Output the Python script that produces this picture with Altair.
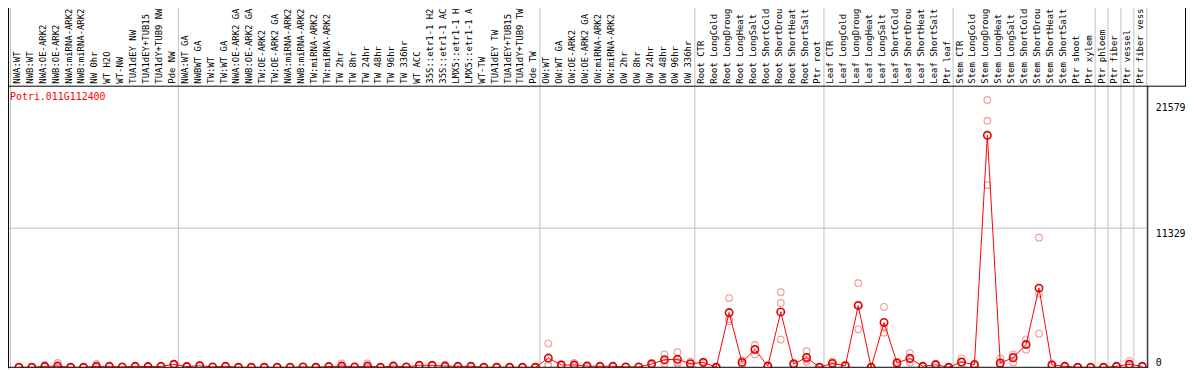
import altair as alt
import pandas as pd

gene_id = "Potri.011G112400"

labels = [
    "NWA:WT", "NWB:WT", "NWA:OE-ARK2", "NWB:OE-ARK2", "NWA:miRNA-ARK2", "NWB:miRNA-ARK2",
    "NW 0hr", "WT H2O", "WT-NW", "TUA1dEY NW", "TUA1dEY+TUB15", "TUA1dY+TUB9 NW", "Pde NW",
    "NWA:WT GA", "NWBWT GA", "TW:WT", "TW:WT GA", "NWA:OE-ARK2 GA", "NWB:OE-ARK2 GA",
    "TW:OE-ARK2", "TW:OE-ARK2 GA", "NWA:miRNA-ARK2", "NWB:miRNA-ARK2", "TW:miRNA-ARK2",
    "TW:miRNA-ARK2", "TW 2hr", "TW 8hr", "TW 24hr", "TW 48hr", "TW 96hr", "TW 336hr", "WT ACC",
    "35S::etr1-1 H2", "35S::etr1-1 AC", "LMX5::etr1-1 H", "LMX5::etr1-1 A", "WT-TW",
    "TUA1dEY TW", "TUA1dEY+TUB15", "TUA1dY+TUB9 TW", "Pde TW",
    "OW:WT", "OW:WT GA", "OW:OE-ARK2", "OW:OE-ARK2 GA", "OW:miRNA-ARK2", "OW:miRNA-ARK2",
    "OW 2hr", "OW 8hr", "OW 24hr", "OW 48hr", "OW 96hr", "OW 336hr",
    "Root CTR", "Root LongCold", "Root LongDroug", "Root LongHeat", "Root LongSalt",
    "Root ShortCold", "Root ShortDrou", "Root ShortHeat", "Root ShortSalt", "Ptr root",
    "Leaf CTR", "Leaf LongCold", "Leaf LongDroug", "Leaf LongHeat", "Leaf LongSalt",
    "Leaf ShortCold", "Leaf ShortDrou", "Leaf ShortHeat", "Leaf ShortSalt", "Ptr leaf",
    "Stem CTR", "Stem LongCold", "Stem LongDroug", "Stem LongHeat", "Stem LongSalt",
    "Stem ShortCold", "Stem ShortDrou", "Stem ShortHeat", "Stem ShortSalt", "Ptr shoot",
    "Ptr xylem", "Ptr phloem", "Ptr fiber", "Ptr vessel", "Ptr fiber vess",
]
group_sizes = [13, 28, 12, 10, 10, 11, 1, 1, 1, 1]

means = [
    0, 0, 80, 100, 0, 0, 80, 80, 30, 80, 60, 80, 240,
    60, 130, 30, 80, 0, 0, 0, 0, 0, 30, 0, 60, 100, 30, 100, 0, 100, 30, 160, 160, 100, 80, 80,
    0, 0, 0, 0, 0,
    750, 190, 190, 100, 80, 80, 30, 30, 270, 620, 650, 290,
    400, 0, 4460, 400, 1450, 100, 4510, 270, 800, 0,
    320, 130, 5020, 0, 3650, 350, 730, 80, 210, 0,
    430, 210, 18900, 350, 780, 1850, 6450, 190, 80, 0, 0,
    0, 80, 240, 80,
]
rep1 = [
    0, 0, 180, 350, 0, 0, 270, 120, 40, 120, 80, 120, 300,
    80, 180, 40, 120, 0, 0, 0, 0, 0, 40, 0, 80, 320, 40, 320, 0, 150, 40, 200, 200, 200, 120, 120,
    0, 0, 0, 0, 0,
    1930, 250, 350, 150, 120, 120, 40, 40, 350, 1050, 1230, 480,
    480, 0, 5640, 560, 1820, 150, 6120, 350, 1310, 0,
    480, 200, 6850, 0, 4920, 450, 1160, 120, 300, 0,
    730, 300, 21780, 730, 1050, 2280, 10560, 250, 120, 0, 0,
    0, 120, 530, 120,
]
rep2 = [
    0, 0, 40, 0, 0, 0, 0, 80, 30, 80, 60, 80, 240,
    60, 130, 30, 80, 0, 0, 0, 0, 0, 30, 0, 60, 0, 30, 0, 0, 100, 30, 160, 160, 60, 80, 80,
    0, 0, 0, 0, 0,
    200, 190, 150, 100, 80, 80, 30, 30, 270, 520, 430, 290,
    400, 0, 3920, 400, 1480, 100, 5240, 270, 640, 0,
    320, 130, 5120, 0, 3220, 350, 630, 80, 210, 0,
    400, 210, 20090, 250, 890, 1850, 5990, 190, 80, 0, 0,
    0, 80, 150, 80,
]
rep3 = [
    0, 0, 20, 0, 0, 0, 0, 40, 20, 40, 40, 40, 180,
    40, 80, 20, 40, 0, 0, 0, 0, 0, 20, 0, 40, 0, 20, 0, 0, 50, 20, 120, 120, 40, 40, 40,
    0, 0, 0, 0, 0,
    100, 130, 70, 50, 40, 40, 20, 20, 190, 290, 290, 100,
    320, 0, 3760, 240, 1050, 50, 2260, 190, 450, 0,
    160, 60, 3090, 0, 2820, 250, 400, 40, 120, 0,
    160, 120, 14840, 70, 400, 1420, 2740, 130, 40, 0, 0,
    0, 40, 40, 40,
]
y_ticks = [0, 11329, 21579]

keys = [f"{i:02d}|{lab}" for i, lab in enumerate(labels)]
df = pd.DataFrame({"key": keys, "mean": means})
reps = pd.DataFrame({"key": keys * 3, "rep": rep1 + rep2 + rep3})

starts = []
s = 0
for g in group_sizes:
    starts.append(keys[s])
    s += g
bounds = pd.DataFrame({"key": starts})
last = pd.DataFrame({"key": [keys[-1]]})
grid_df = pd.DataFrame({"v": [y_ticks[1]]})
title_df = pd.DataFrame({"t": [gene_id]})

MONO = "DejaVu Sans Mono"
W, H = 1144, 283

xscale = alt.Scale(type="band", domain=keys, paddingInner=0, paddingOuter=0)
xaxis = alt.Axis(orient="top", labelAngle=270, labelAlign="left", labelBaseline="middle",
                 labelExpr="split(datum.label, '|')[1]", domain=False, ticks=False, grid=False,
                 labelPadding=3, labelFont=MONO, labelFontSize=9, labelColor="black",
                 labelOverlap=False, labelLimit=300, title=None)
yscale = alt.Scale(domain=[0, 22900], nice=False, zero=True)
yaxis = alt.Axis(orient="right", values=y_ticks, format="d", domain=False, ticks=False, grid=False,
                 labelPadding=8.5, labelFont=MONO, labelFontSize=10, labelColor="black",
                 labelBaseline={"condition": {"test": "datum.value === 0", "value": "bottom"}, "value": "top"},
                 title=None)

X = alt.X("key:N", scale=xscale, axis=xaxis)

group_lines = alt.Chart(bounds).mark_rule(color="#c0c0c0", strokeWidth=1).encode(
    x=alt.X("key:N", scale=xscale, axis=xaxis, bandPosition=0),
    y=alt.value(-80), y2=alt.value(H))
end_line = alt.Chart(last).mark_rule(color="#c0c0c0", strokeWidth=1).encode(
    x=alt.X("key:N", scale=xscale, axis=xaxis, bandPosition=1),
    y=alt.value(-80), y2=alt.value(H))
hgrid = alt.Chart(grid_df).mark_rule(color="#c0c0c0", strokeWidth=1).encode(
    y=alt.Y("v:Q", scale=yscale, axis=yaxis), x=alt.value(-2), x2=alt.value(W + 1))

rep_pts = alt.Chart(reps).mark_point(shape="circle", size=45, color="#f09a9a", strokeWidth=1.1,
                                     filled=False, xOffset=2, clip=True, opacity=1).encode(
    x=X, y=alt.Y("rep:Q", scale=yscale, axis=yaxis))
line = alt.Chart(df).mark_line(color="#ff0000", strokeWidth=1, xOffset=2, clip=True).encode(
    x=X, y=alt.Y("mean:Q", scale=yscale, axis=yaxis))
mean_pts = alt.Chart(df).mark_point(shape="circle", size=55, color="#e00000", strokeWidth=1.6,
                                    filled=False, xOffset=2, clip=True, opacity=1).encode(
    x=X, y=alt.Y("mean:Q", scale=yscale, axis=yaxis))

frame_top = alt.Chart(title_df).mark_rule(color="black", strokeWidth=1).encode(
    x=alt.value(-3), x2=alt.value(W + 50), y=alt.value(0))
frame_left = alt.Chart(title_df).mark_rule(color="black", strokeWidth=1).encode(
    x=alt.value(-2), y=alt.value(-80), y2=alt.value(H + 1))
frame_bottom = alt.Chart(title_df).mark_rule(color="black", strokeWidth=1).encode(
    x=alt.value(-2), x2=alt.value(W + 1.5), y=alt.value(H))
frame_right = alt.Chart(title_df).mark_rule(color="black", strokeWidth=1).encode(
    x=alt.value(W + 1), y=alt.value(0), y2=alt.value(H))
frame_hdr_right = alt.Chart(title_df).mark_rule(color="black", strokeWidth=1).encode(
    x=alt.value(W + 39), y=alt.value(-80), y2=alt.value(0))

title = alt.Chart(title_df).mark_text(font=MONO, fontSize=10, color="#ff0000", align="left",
                                      baseline="middle").encode(
    text="t:N", x=alt.value(-0.5), y=alt.value(11.2))

chart = alt.layer(
    group_lines, end_line, hgrid, rep_pts, line, mean_pts,
    frame_top, frame_left, frame_bottom, frame_right, frame_hdr_right, title,
).properties(
    width=W, height=H,
    autosize=alt.AutoSizeParams(type="none"),
    padding={"left": 2.5, "top": 77.5, "right": 39.5, "bottom": 1.5},
).configure_view(stroke=None)

chart.save("out.html", embed_options={"renderer": "svg", "actions": False})
